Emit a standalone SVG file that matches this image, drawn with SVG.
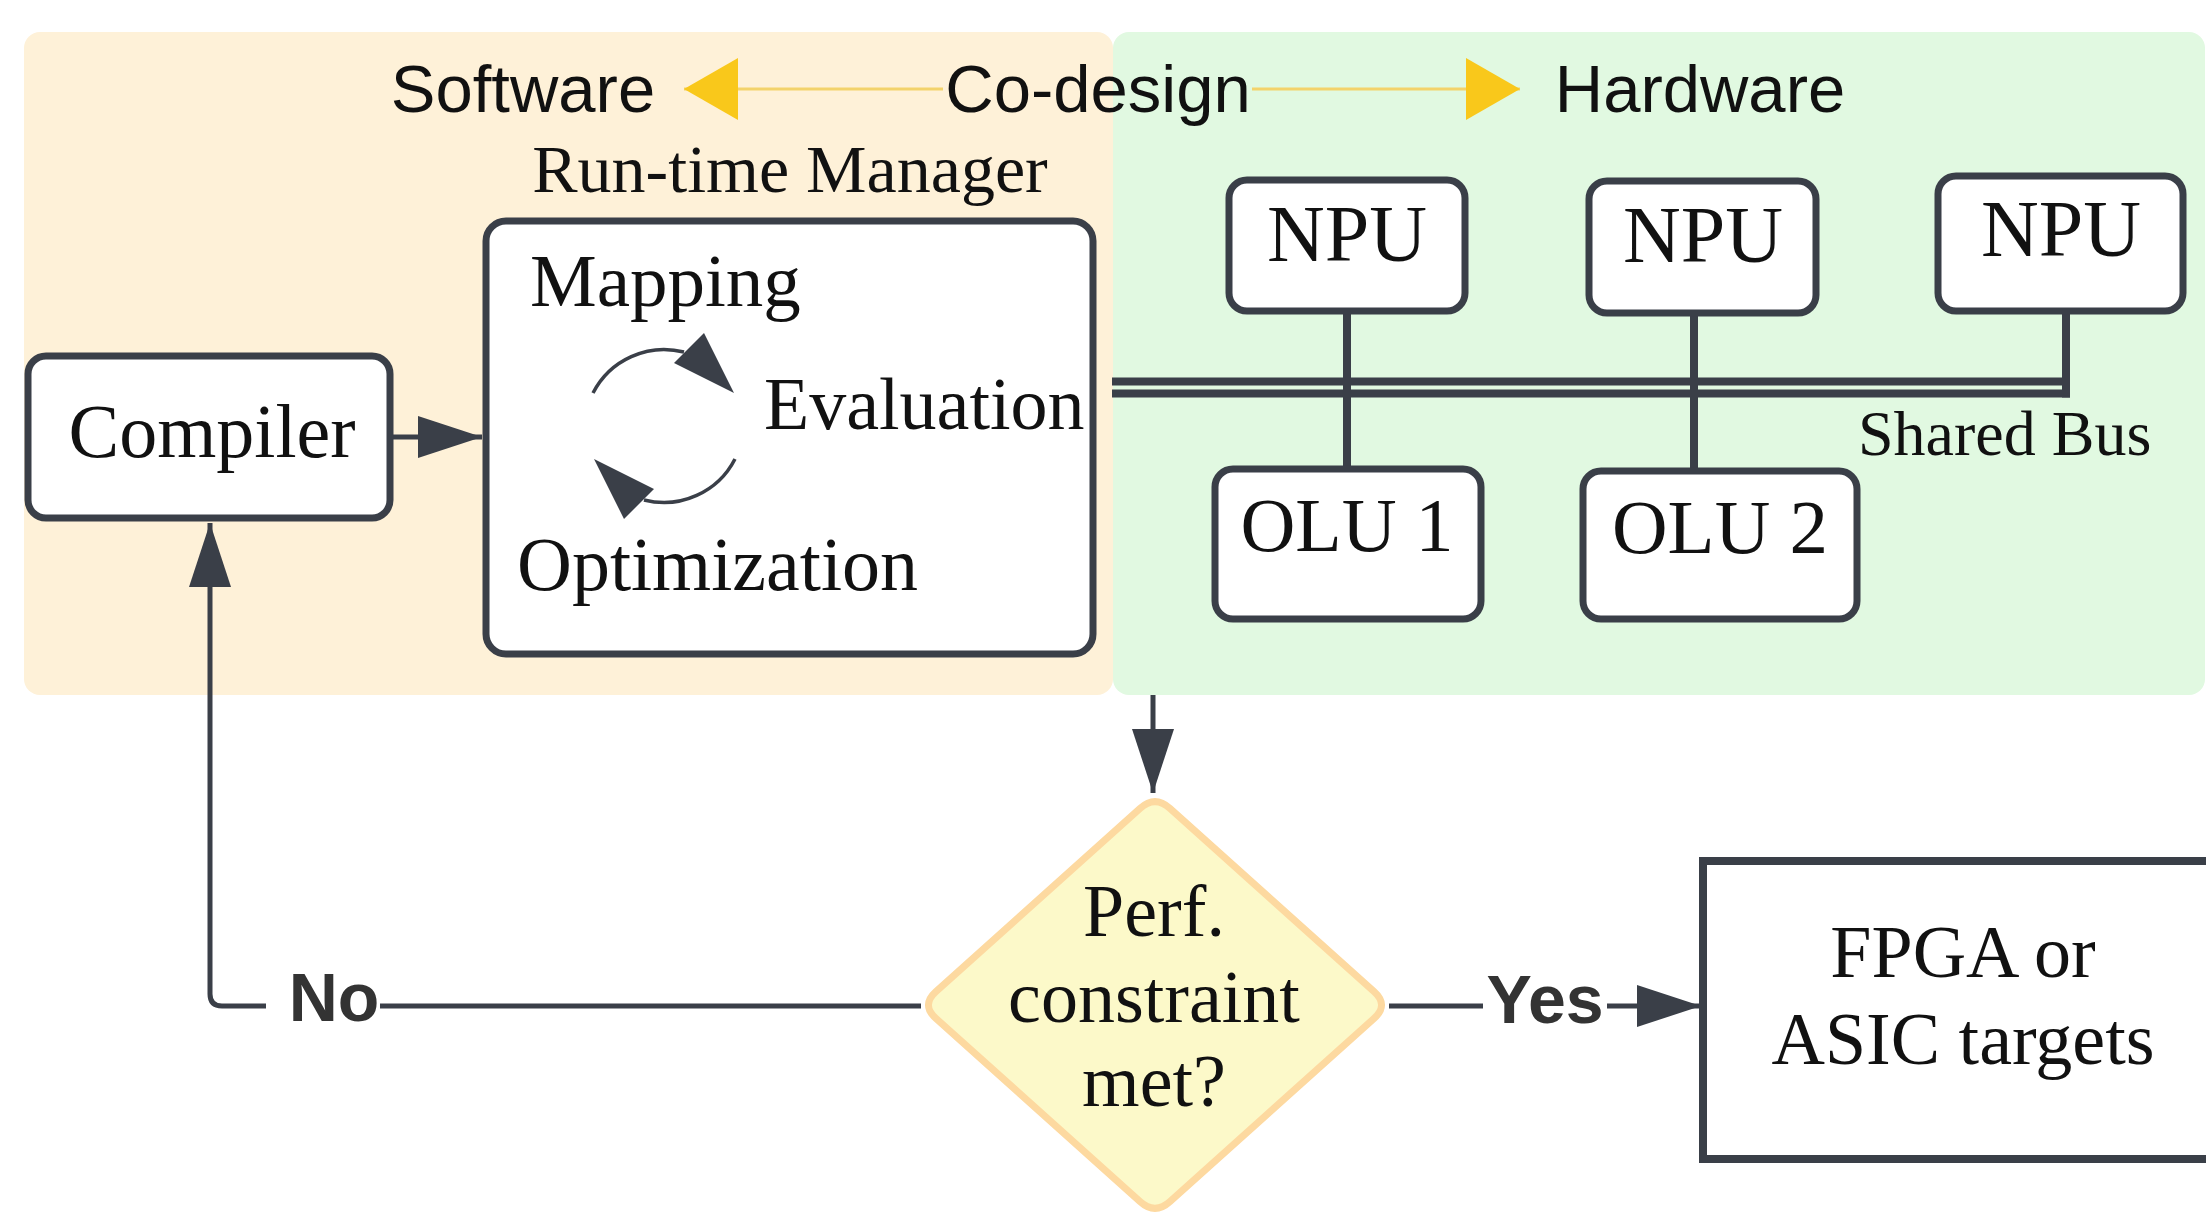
<svg xmlns="http://www.w3.org/2000/svg" width="2206" height="1212" viewBox="0 0 2206 1212">
<style>
.serif{font-family:"Liberation Serif","Times New Roman",serif;fill:#111}
.title{font-family:"Liberation Sans",Arial,sans-serif;font-size:67px;fill:#111}
.box{fill:#fff;stroke:#3a3f48;stroke-width:7}
.conn{fill:none;stroke:#3a3f48;stroke-width:5}
.bus{fill:none;stroke:#3a3f48;stroke-width:8}
.yl{fill:none;stroke:#f3d36b;stroke-width:3}
.lbl{font-family:"Liberation Sans",Arial,sans-serif;font-weight:bold;font-size:68px;fill:#333}
</style>
<defs>
<marker id="ah" markerUnits="userSpaceOnUse" markerWidth="64" markerHeight="42" refX="64" refY="21" orient="auto">
<path d="M0,0 L64,21 L0,42 Z" fill="#3a3f48"/>
</marker>
<marker id="yh" markerUnits="userSpaceOnUse" markerWidth="54" markerHeight="62" refX="54" refY="31" orient="auto">
<path d="M0,0 L54,31 L0,62 Z" fill="#f9c81b"/>
</marker>
</defs>
<rect width="2206" height="1212" fill="#fff"/>
<g id="software-panel"><rect x="24" y="32" width="1089" height="663" rx="16" fill="#fef1d8"/></g>
<g id="hardware-panel"><rect x="1113" y="32" width="1092" height="663" rx="16" fill="#e1f9e1"/></g>

<g id="codesign">
<path class="yl" d="M943 89 L684 89" marker-end="url(#yh)"/>
<path class="yl" d="M1252 89 L1520 89" marker-end="url(#yh)"/>
<text class="title" x="523" y="112" text-anchor="middle">Software</text>
<text class="title" x="1098" y="112" text-anchor="middle">Co-design</text>
<text class="title" x="1700" y="112" text-anchor="middle">Hardware</text>
</g>

<g id="connectors">
<path class="conn" d="M390 437 L482 437" marker-end="url(#ah)"/>
<path class="conn" d="M1153 695 L1153 793" marker-end="url(#ah)"/>
<path class="conn" stroke-width="4" d="M921 1006 L222 1006 Q210 1006 210 994 L210 523" marker-end="url(#ah)"/>
<path class="conn" d="M1389 1006 L1701 1006" marker-end="url(#ah)"/>
<g id="shared-bus">
<path class="bus" d="M1112 381.5 L2066 381.5"/>
<path class="bus" d="M1112 393.5 L2070 393.5"/>
<path class="bus" d="M1347 312 L1347 469"/>
<path class="bus" d="M1694 315 L1694 471"/>
<path class="bus" d="M2066 312 L2066 397.5"/>
</g>
</g>

<g id="compiler">
<rect class="box" x="28" y="356" width="362" height="162" rx="18"/>
<text class="serif" x="212" y="457" font-size="76" text-anchor="middle">Compiler</text>
</g>

<g id="runtime-manager">
<text class="serif" x="790" y="192" font-size="68" text-anchor="middle">Run-time Manager</text>
<rect class="box" x="486" y="221" width="607" height="433" rx="20"/>
<text class="serif" x="530" y="306" font-size="75">Mapping</text>
<text class="serif" x="764" y="429" font-size="74">Evaluation</text>
<text class="serif" x="517" y="590" font-size="76">Optimization</text>
<g id="cycle">
<path d="M593 393 A80 80 0 0 1 684 352" fill="none" stroke="#3a3f48" stroke-width="3.5"/>
<polygon points="674,363 704,333 734,393" fill="#3a3f48"/>
<g transform="rotate(180 664 426)">
<path d="M593 393 A80 80 0 0 1 684 352" fill="none" stroke="#3a3f48" stroke-width="3.5"/>
<polygon points="674,363 704,333 734,393" fill="#3a3f48"/>
</g>
</g>
</g>

<g id="npu1"><rect class="box" x="1229" y="180" width="236" height="131" rx="18"/><text class="serif" x="1347" y="261" font-size="80" text-anchor="middle">NPU</text></g>
<g id="npu2"><rect class="box" x="1589" y="181" width="227" height="132" rx="18"/><text class="serif" x="1703" y="262" font-size="80" text-anchor="middle">NPU</text></g>
<g id="npu3"><rect class="box" x="1938" y="176" width="245" height="135" rx="18"/><text class="serif" x="2061" y="256" font-size="80" text-anchor="middle">NPU</text></g>
<g id="olu1"><rect class="box" x="1215" y="469" width="266" height="150" rx="18"/><text class="serif" x="1347" y="551" font-size="76" text-anchor="middle">OLU 1</text></g>
<g id="olu2"><rect class="box" x="1583" y="471" width="274" height="148" rx="18"/><text class="serif" x="1720" y="553" font-size="77" text-anchor="middle">OLU 2</text></g>
<g id="shared-bus-label"><text class="serif" x="1858" y="455" font-size="64">Shared Bus</text></g>

<g id="decision">
<path d="M1140.1 808.4 Q1155 795 1169.9 808.4 L1374.1 991.6 Q1389 1005 1374.1 1018.4 L1169.9 1201.6 Q1155 1215 1140.1 1201.6 L935.9 1018.4 Q921 1005 935.9 991.6 Z" fill="#fcf9c9" stroke="#fdd9a0" stroke-width="7"/>
<text class="serif" x="1154" y="936" font-size="74" text-anchor="middle">Perf.</text>
<text class="serif" x="1154" y="1022" font-size="74" text-anchor="middle">constraint</text>
<text class="serif" x="1154" y="1106" font-size="74" text-anchor="middle">met?</text>
</g>

<g id="label-no"><rect x="266" y="968" width="114" height="64" fill="#fff"/><text class="lbl" x="334" y="1021" text-anchor="middle">No</text></g>
<g id="label-yes"><rect x="1483" y="968" width="124" height="64" fill="#fff"/><text class="lbl" x="1545" y="1023" text-anchor="middle">Yes</text></g>

<g id="targets">
<rect x="1703" y="861" width="530" height="298" fill="#fff" stroke="#3a3f48" stroke-width="8"/>
<text class="serif" x="1963" y="977" font-size="74" text-anchor="middle">FPGA or</text>
<text class="serif" x="1963" y="1064" font-size="74" text-anchor="middle">ASIC targets</text>
</g>
</svg>
